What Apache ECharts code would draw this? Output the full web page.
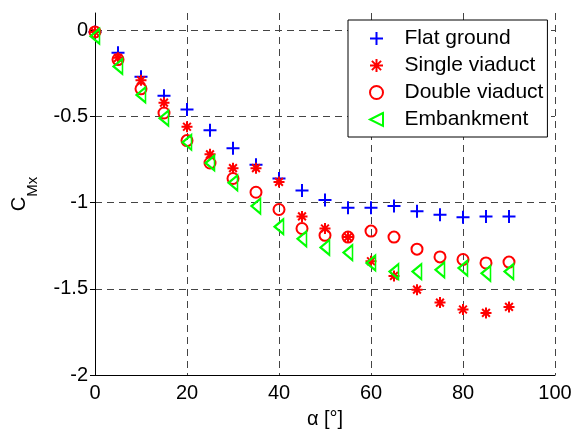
<!DOCTYPE html>
<html>
<head>
<meta charset="utf-8">
<script src="https://cdn.jsdelivr.net/npm/echarts@6/dist/echarts.min.js"></script>
<style>
  html, body { margin: 0; padding: 0; background: #fff; }
  #chart { width: 580px; height: 430px; }
</style>
</head>
<body>
<div id="chart"></div>
<script>
// wind angle (deg) and rolling moment coefficient per ground case
const alpha = [0, 5, 10, 15, 20, 25, 30, 35, 40, 45, 50, 55, 60, 65, 70, 75, 80, 85, 90];
const flatGround = [-0.01, -0.13, -0.27, -0.38, -0.46, -0.58, -0.685, -0.78, -0.86, -0.93, -0.985, -1.03, -1.03, -1.02, -1.05, -1.07, -1.085, -1.08, -1.08];
const singleViaduct = [-0.01, -0.16, -0.29, -0.42, -0.56, -0.72, -0.8, -0.8, -0.88, -1.08, -1.15, -1.2, -1.34, -1.425, -1.505, -1.58, -1.62, -1.64, -1.605];
const doubleViaduct = [-0.01, -0.17, -0.34, -0.48, -0.64, -0.77, -0.86, -0.94, -1.04, -1.15, -1.19, -1.2, -1.165, -1.2, -1.27, -1.315, -1.33, -1.35, -1.345];
const embankment = [-0.035, -0.21, -0.375, -0.51, -0.65, -0.77, -0.885, -1.02, -1.14, -1.21, -1.26, -1.29, -1.35, -1.4, -1.4, -1.39, -1.38, -1.41, -1.4];

const seriesNames = ['Flat ground', 'Single viaduct', 'Double viaduct', 'Embankment'];

const FONT = 'Liberation Sans, Arial, sans-serif';
const gridColor = '#444';

const pairs = (ys) => alpha.map((a, i) => [a, ys[i]]);

const markers = {
    plus: 'path://M6,0L6,12M0,6L12,6',
    star: 'path://M6,0L6,12M0,6L12,6M1.76,1.76L10.24,10.24M10.24,1.76L1.76,10.24',
    triLeft: 'path://M12,0L0,6L12,12Z'
};

function makeSeries(name, ys, symbol, size, color) {
    return {
        name: name,
        type: 'scatter',
        symbol: symbol,
        symbolSize: size,
        itemStyle: {
            color: 'rgba(0,0,0,0)',
            borderColor: color,
            borderWidth: 2,
            opacity: 1
        },
        emphasis: { disabled: true },
        data: pairs(ys)
    };
}

const chart = echarts.init(document.getElementById('chart'), null, { renderer: 'canvas' });

chart.setOption({
    backgroundColor: '#fff',
    animation: false,
    textStyle: { fontFamily: FONT, color: '#000' },
    grid: { left: 95, right: 25, top: 13, bottom: 55, outerBoundsMode: 'none' },
    legend: {
        orient: 'vertical',
        left: 348,
        top: 20,
        padding: [8, 4, 7, 21],
        itemWidth: 40,
        itemHeight: 13,
        itemGap: 6,
        backgroundColor: '#fff',
        borderColor: '#000',
        borderWidth: 1,
        borderRadius: 0,
        textStyle: { fontFamily: FONT, fontSize: 21, color: '#000', lineHeight: 18, padding: [0, 0, 0, 3] },
        data: seriesNames
    },
    xAxis: {
        type: 'value',
        min: 0,
        max: 100,
        interval: 20,
        name: 'α [°]',
        nameLocation: 'middle',
        nameGap: 34,
        nameTextStyle: { fontFamily: FONT, fontSize: 20, color: '#000' },
        axisLine: { onZero: false, lineStyle: { color: '#000', width: 1 } },
        axisTick: { show: false },
        axisLabel: { fontFamily: FONT, fontSize: 20, color: '#000', margin: 8 },
        splitLine: {
            show: true,
            showMinLine: false,
            lineStyle: { color: gridColor, type: [7, 5], width: 1 }
        }
    },
    yAxis: {
        type: 'value',
        min: -2,
        max: 0.1,
        interval: 0.5,
        name: '{c|C}{s|Mx}',
        nameLocation: 'middle',
        nameGap: 48,
        nameTextStyle: {
            rich: {
                c: { fontFamily: FONT, fontSize: 20, lineHeight: 20, color: '#000', padding: [0, 0, 13, 0] },
                s: { fontFamily: FONT, fontSize: 15, lineHeight: 15, color: '#000', padding: [13, 0, 0, 0] }
            }
        },
        axisLine: { show: true, onZero: false, lineStyle: { color: '#000', width: 1 } },
        axisTick: { show: true, inside: false, length: 5, lineStyle: { color: '#000' } },
        axisLabel: {
            fontFamily: FONT,
            fontSize: 20,
            color: '#000',
            margin: 7,
            showMaxLabel: false,
            formatter: (v) => (v > 0 ? '' : String(v))
        },
        splitLine: {
            show: true,
            showMinLine: false,
            showMaxLine: false,
            lineStyle: { color: gridColor, type: [7, 5], width: 1 }
        }
    },
    series: [
        makeSeries('Flat ground', flatGround, markers.plus, 13, '#0000ff'),
        makeSeries('Single viaduct', singleViaduct, markers.star, 11, '#ff0000'),
        makeSeries('Double viaduct', doubleViaduct, 'circle', 11, '#ff0000'),
        makeSeries('Embankment', embankment, markers.triLeft, [9, 15], '#00ff00')
    ]
});
</script>
</body>
</html>
